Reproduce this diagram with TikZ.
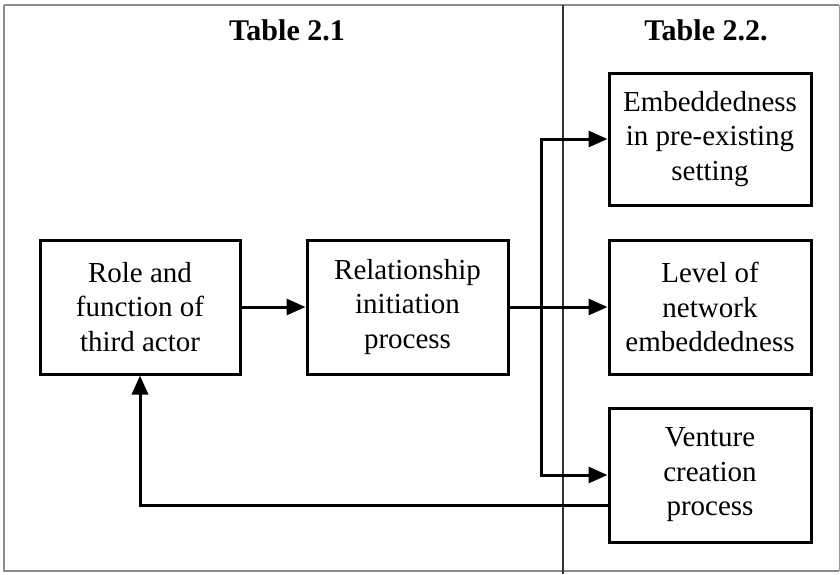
\documentclass[tikz,border=0pt]{standalone}
\usepackage{fontspec}
\setmainfont{Liberation Serif}
\usetikzlibrary{arrows.meta}
\begin{document}
\begin{tikzpicture}[x=1pt,y=-1pt,
  box/.style={draw=black, line width=3pt, inner sep=0pt, align=center,
    font=\fontsize{29}{34.5}\selectfont},
  arr/.style={draw=black, line width=3pt,
    -{Triangle[length=19pt,width=16pt]}},
  head/.style={font=\bfseries\fontsize{30}{34}\selectfont},
  frame/.style={draw=black!45, line width=1.8pt}]
\useasboundingbox (0,0) rectangle (840,574);

% outer frame and column divider
\draw[frame] (4,5) -- (839,5) (4,5) -- (4,571) -- (839,571);
\draw[draw=black!40, line width=0.8pt] (839,5) -- (839,571);
\draw[draw=black!80, line width=1.4pt] (563,5) -- (563,574);

% column headings
\node[head] (h1) at (287,30) {Table 2.1};
\node[head] (h2) at (706,30) {Table 2.2.};

% boxes
\node[box, minimum width=200pt, minimum height=134pt] (A) at (140,307)
  {Role and\\function of\\third actor};
\node[box, minimum width=201pt, minimum height=134pt] (B) at (407.5,307)
  {Relationship\\initiation\\process};
\node[box, minimum width=202pt, minimum height=132pt] (C) at (710,139)
  {Embeddedness\\in pre-existing\\setting};
\node[box, minimum width=202pt, minimum height=134pt] (D) at (710,307)
  {Level of\\network\\embeddedness};
\node[box, minimum width=202pt, minimum height=134pt] (E) at (710,475)
  {Venture\\creation\\process};

% connectors
\draw[arr] (A.east) -- (B.west);
\draw[arr] (B.east) -- (D.west);
\draw[arr] (B.east) -- ++(32,0) |- (C.west);
\draw[arr] (B.east) -- ++(32,0) |- (E.west);
\draw[arr] ([yshift=-30pt]E.west) -| (A.south);
\end{tikzpicture}
\end{document}
